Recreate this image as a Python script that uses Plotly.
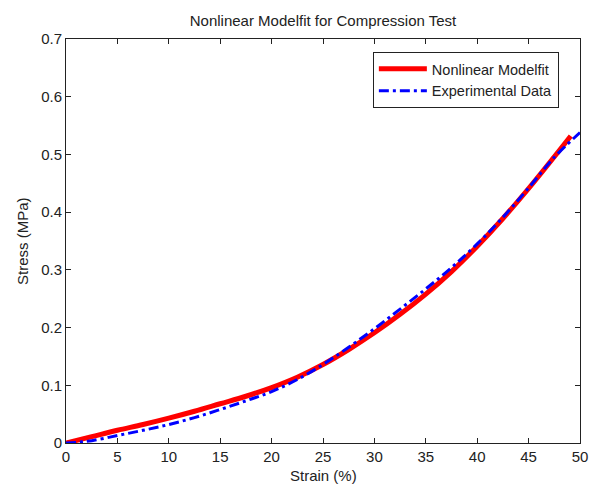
import plotly.graph_objects as go

# Nonlinear model fit (red)
fit_strain = [0, 2.5, 5, 7.5, 10, 12.5, 15, 17.5, 20, 22.5, 25, 27.5, 30, 32.5, 35, 37.5, 40, 42.5, 45, 47.5, 49.1]
fit_stress = [0, 0.011, 0.022, 0.032, 0.043, 0.055, 0.068, 0.081, 0.096, 0.114, 0.136, 0.162, 0.191, 0.223, 0.258, 0.297, 0.341, 0.389, 0.441, 0.496, 0.532]

# Experimental data (blue dash-dot)
exp_strain = [0, 1, 2.5, 5, 7.5, 10, 12.5, 15, 17.5, 20, 22.5, 25, 27.5, 30, 32.5, 35, 37.5, 40, 42.5, 45, 47.5, 50]
exp_stress = [0, 0.001, 0.004, 0.013, 0.022, 0.032, 0.044, 0.058, 0.073, 0.089, 0.110, 0.136, 0.166, 0.198, 0.232, 0.267, 0.304, 0.345, 0.391, 0.442, 0.495, 0.538]

x_ticks = [0, 5, 10, 15, 20, 25, 30, 35, 40, 45, 50]
y_ticks = [0, 0.1, 0.2, 0.3, 0.4, 0.5, 0.6, 0.7]
y_tick_labels = ["0", "0.1", "0.2", "0.3", "0.4", "0.5", "0.6", "0.7"]

FONT = "Liberation Sans, Arial, Helvetica, sans-serif"
INK = "#222"

# page body has an 8px margin; compensate so the plot sits where the reference does
ML, MT = 58, 31
PLOT_W, PLOT_H = 514, 404
W, H = 601, 493

fig = go.Figure()
fig.add_trace(go.Scatter(x=fit_strain, y=fit_stress, mode="lines", name="Nonlinear Modelfit",
                         line=dict(color="#ff0000", width=5, shape="spline")))
fig.add_trace(go.Scatter(x=exp_strain, y=exp_stress, mode="lines", name="Experimental Data",
                         line=dict(color="#0000ff", width=3, dash="10px,4px,3px,4px", shape="spline")))

axis_common = dict(showline=True, linecolor=INK, linewidth=1, mirror="ticks",
                   ticks="inside", ticklen=5, tickcolor=INK, showgrid=False, zeroline=False,
                   tickfont=dict(family=FONT, size=15, color=INK))

fig.update_layout(
    width=W, height=H,
    margin=dict(l=ML, r=W - ML - PLOT_W, t=MT, b=H - MT - PLOT_H, pad=0),
    paper_bgcolor="white", plot_bgcolor="white",
    font=dict(family=FONT, size=15, color=INK),
    title=dict(text="Nonlinear Modelfit for Compression Test", x=(ML + PLOT_W / 2) / W, xanchor="center",
               y=1 - 13 / H, yanchor="middle", font=dict(family=FONT, size=15, color=INK)),
    xaxis=dict(range=[0, 50], tickvals=x_ticks, **axis_common),
    yaxis=dict(range=[0, 0.7], tickvals=y_ticks, ticktext=y_tick_labels, **axis_common),
    legend=dict(x=0.597, y=0.968, xanchor="left", yanchor="top", bordercolor=INK, borderwidth=1,
                bgcolor="white", font=dict(family=FONT, size=14.5, color=INK), itemwidth=48,
                tracegroupgap=0),
    showlegend=True,
    annotations=[
        dict(text="Strain (%)", xref="paper", yref="paper", x=0.5, y=0, yshift=-(467 - (MT + PLOT_H)),
             xanchor="center", yanchor="middle", showarrow=False,
             font=dict(family=FONT, size=15, color=INK)),
        dict(text="Stress (MPa)", xref="paper", yref="paper", x=0, y=0.5, xshift=-(ML - 14),
             xanchor="center", yanchor="middle", textangle=-90, showarrow=False,
             font=dict(family=FONT, size=15, color=INK)),
    ],
)

fig.write_html("out.html")
